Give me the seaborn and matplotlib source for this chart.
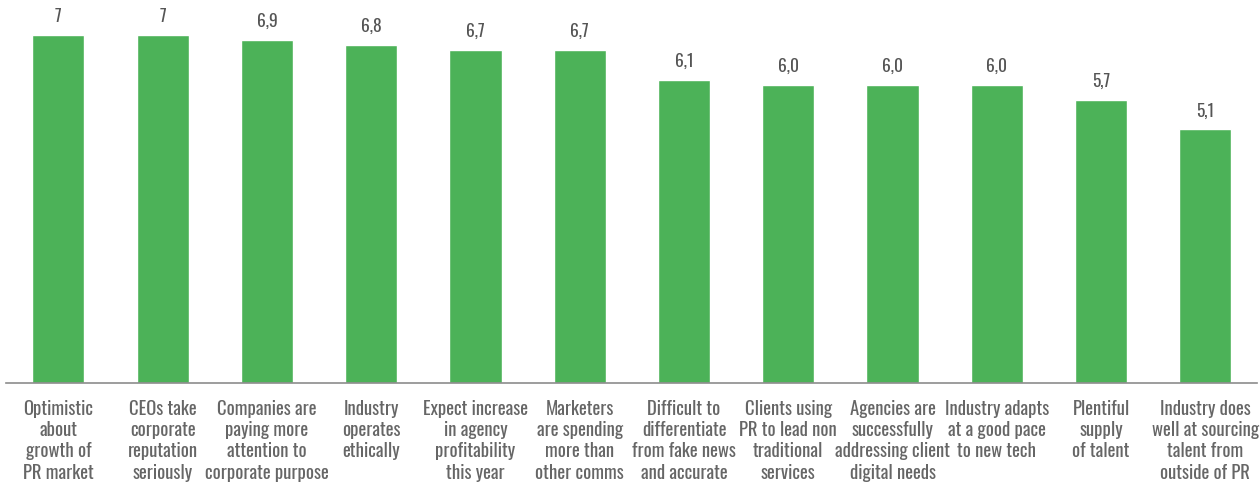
import matplotlib
matplotlib.use("Agg")
import matplotlib.pyplot as plt
import seaborn as sns
import pandas as pd

categories = [
    "Optimistic\nabout\ngrowth of\nPR market",
    "CEOs take\ncorporate\nreputation\nseriously",
    "Companies are\npaying more\nattention to\ncorporate purpose",
    "Industry\noperates\nethically",
    "Expect increase\nin agency\nprofitability\nthis year",
    "Marketers\nare spending\nmore than\nother comms",
    "Difficult to\ndifferentiate\nfrom fake news\nand accurate",
    "Clients using\nPR to lead non\ntraditional\nservices",
    "Agencies are\nsuccessfully\naddressing client\ndigital needs",
    "Industry adapts\nat a good pace\nto new tech",
    "Plentiful\nsupply\nof talent",
    "Industry does\nwell at sourcing\ntalent from\noutside of PR",
]
scores = [7.0, 7.0, 6.9, 6.8, 6.7, 6.7, 6.1, 6.0, 6.0, 6.0, 5.7, 5.1]
score_labels = ["7", "7", "6,9", "6,8", "6,7", "6,7", "6,1", "6,0", "6,0", "6,0", "5,7", "5,1"]

df = pd.DataFrame({"statement": categories, "score": scores})

sns.set_theme(style="white")
plt.rcParams["font.family"] = ["Oswald", "Barlow Condensed", "DejaVu Sans"]

fig = plt.figure(figsize=(12.6, 4.97), dpi=100)
ax = fig.add_axes([0.005, 0.229, 0.993, 0.771])

sns.barplot(data=df, x="statement", y="score", color="#4CB258", saturation=1,
            width=0.5, ax=ax)

for i, (v, lab) in enumerate(zip(scores, score_labels)):
    ax.text(i, v + 0.2, lab, ha="center", va="bottom", fontsize=12.5,
            fontweight="bold", color="#555555")

ax.set_xlim(-0.5, len(categories) - 0.5)
ax.set_ylim(0, 7.7)
ax.set_xlabel("")
ax.set_ylabel("")
ax.set_yticks([])
ax.tick_params(axis="x", length=0, pad=12)
for lbl in ax.get_xticklabels():
    lbl.set_fontsize(13.5)
    lbl.set_fontweight("light")
    lbl.set_color("#666666")
    lbl.set_linespacing(1.22)
    lbl.set_va("top")

for side in ["top", "right", "left"]:
    ax.spines[side].set_visible(False)
ax.spines["bottom"].set_color("#8c8c8c")
ax.spines["bottom"].set_linewidth(1.2)

fig.savefig("out.png", dpi=100)
